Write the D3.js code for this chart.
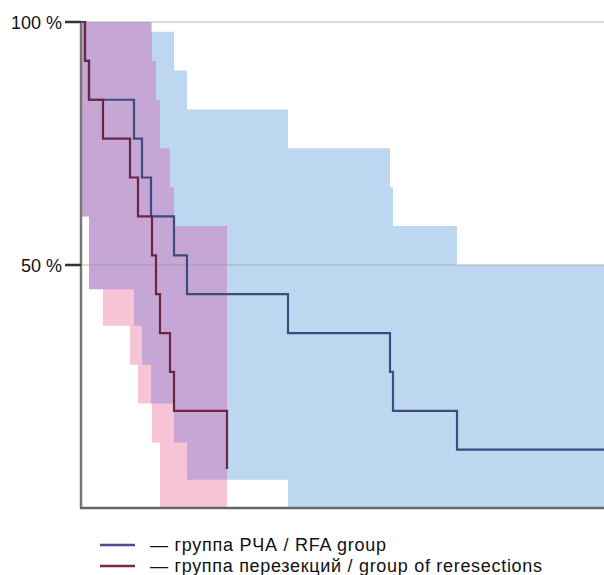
<!DOCTYPE html>
<html>
<head>
<meta charset="utf-8">
<script src="https://cdn.jsdelivr.net/npm/d3@7"></script>
<style>
	body { margin: 0; background: #fff; }
	svg { display: block; }
</style>
</head>
<body>
<svg id="chart" width="604" height="575"></svg>
<script>
// RFA group: event times, survival %, confidence band
const rfaTimes = [0, 0.4, 0.8, 5.3, 6.1, 7.0, 9.3, 10.6, 20.7, 30.9, 31.2, 37.6, 52.3]
const rfaSurv = [100, 92, 84, 76, 68, 60, 52, 44, 36, 28, 20, 12, 12]
const rfaUpper = [100, 100, 100, 100, 100, 98, 90, 82, 74, 66, 58, 50, 50]
const rfaLower = [60, 60, 45, 37.5, 29.5, 21.5, 13.5, 5.8, 0, 0, 0, 0, 0]

// reresection group
const resTimes = [0, 0.4, 0.8, 2.2, 4.9, 5.7, 7.1, 7.5, 7.9, 8.9, 9.3, 14.6]
const resSurv = [100, 92, 84, 76, 68, 60, 52, 44, 36, 28, 20, 8]
const resUpper = [100, 100, 100, 100, 100, 100, 92, 84, 74, 66, 58, 58]
const resLower = [60, 60, 45, 37.5, 29.5, 21.5, 13.5, 13.5, 0, 0, 0, 0]

const yTicks = [100, 50]
const yTickLabels = ['100 %', '50 %']
const legendLabels = ['— группа РЧА / RFA group', '— группа перезекций / group of reresections']

const svg = d3.select('#chart')
const plot = {left: 81, right: 604, top: 22, bottom: 508}

const x = d3.scaleLinear().domain([0, 52.3]).range([plot.left, plot.right])
const y = d3.scaleLinear().domain([0, 100]).range([plot.bottom, plot.top])

const zip = (t, a, b) => t.map((d, i) => ({t: d, a: a[i], b: b ? b[i] : null}))

const band = d3.area()
	.x(d => x(d.t))
	.y0(d => y(d.b))
	.y1(d => y(d.a))
	.curve(d3.curveStepAfter)

const line = d3.line()
	.x(d => x(d.t))
	.y(d => y(d.a))
	.curve(d3.curveStepAfter)

const rfaBand = zip(rfaTimes, rfaUpper, rfaLower)
const resBand = zip(resTimes, resUpper, resLower)

svg.append('clipPath')
	.attr('id', 'rfa-clip')
	.append('path')
	.attr('d', band(rfaBand))

svg.append('path')
	.attr('d', band(rfaBand))
	.style('fill', '#bdd7f1')

svg.append('path')
	.attr('d', band(resBand))
	.style('fill', '#f6c4d5')

// overlap of the two bands
svg.append('path')
	.attr('d', band(resBand))
	.attr('clip-path', 'url(#rfa-clip)')
	.style('fill', '#c5a6d5')

// grid lines
svg.selectAll('.grid')
	.data(yTicks)
	.join('line')
	.attr('class', 'grid')
	.attr('x1', plot.left)
	.attr('x2', plot.right)
	.attr('y1', d => y(d))
	.attr('y2', d => y(d))
	.style('stroke', '#999')
	.style('stroke-opacity', 0.35)
	.style('stroke-width', 2)

svg.append('path')
	.attr('d', line(zip(rfaTimes, rfaSurv)))
	.style('fill', 'none')
	.style('stroke', '#3d4b80')
	.style('stroke-width', 2.2)

svg.append('path')
	.attr('d', line(zip(resTimes, resSurv)))
	.style('fill', 'none')
	.style('stroke', '#6c2444')
	.style('stroke-width', 2.2)

// axes
svg.append('line')
	.attr('x1', plot.left).attr('x2', plot.left)
	.attr('y1', plot.top).attr('y2', plot.bottom)
	.style('stroke', '#777')
	.style('stroke-width', 2.5)

svg.append('line')
	.attr('x1', plot.left - 1).attr('x2', plot.right)
	.attr('y1', plot.bottom).attr('y2', plot.bottom)
	.style('stroke', '#666')
	.style('stroke-width', 2.5)

svg.selectAll('.tick')
	.data(yTicks)
	.join('line')
	.attr('class', 'tick')
	.attr('x1', plot.left - 16)
	.attr('x2', plot.left)
	.attr('y1', d => y(d))
	.attr('y2', d => y(d))
	.style('stroke', '#333')
	.style('stroke-width', 2.5)

svg.selectAll('.ylabel')
	.data(yTicks)
	.join('text')
	.attr('class', 'ylabel')
	.attr('x', 62)
	.attr('y', d => y(d) + 7)
	.attr('text-anchor', 'end')
	.style('font-family', 'Liberation Sans, Arial, sans-serif')
	.style('font-size', '18px')
	.style('fill', '#111')
	.text((d, i) => yTickLabels[i])

// legend
const legendColors = ['#4a4f8c', '#7a2c40']
const legendWidths = [236, 392]
const legend = svg.selectAll('.legend')
	.data(legendLabels)
	.join('g')
	.attr('class', 'legend')
	.attr('transform', (d, i) => `translate(0, ${545 + i * 21})`)

legend.append('line')
	.attr('x1', 100)
	.attr('x2', 135)
	.style('stroke', (d, i) => legendColors[i])
	.style('stroke-width', 2.5)

legend.append('text')
	.attr('x', 150)
	.attr('y', 6)
	.attr('textLength', (d, i) => legendWidths[i])
	.attr('lengthAdjust', 'spacing')
	.style('font-family', 'Liberation Sans Narrow, Liberation Sans, Arial, sans-serif')
	.style('font-size', '18px')
	.style('fill', '#111')
	.text(d => d)
</script>
</body>
</html>
